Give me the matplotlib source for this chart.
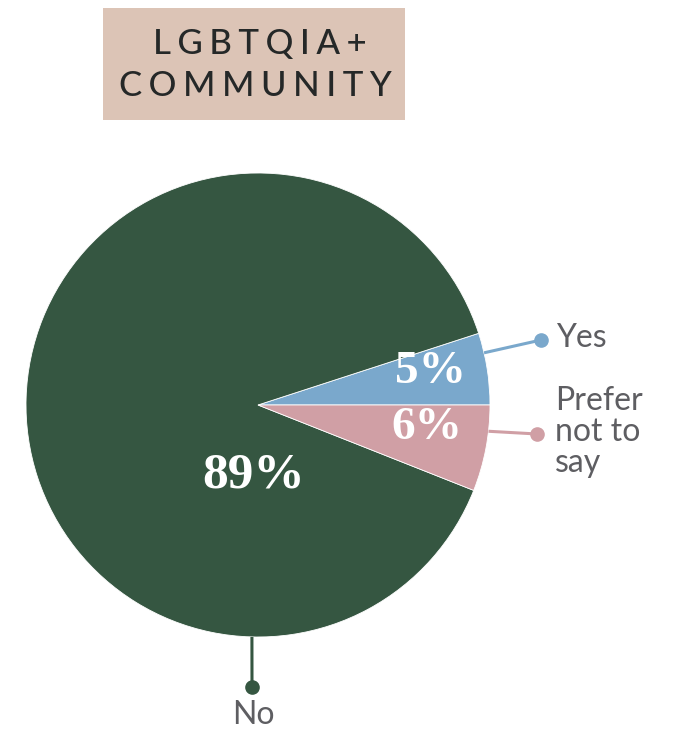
import numpy as np
import matplotlib.pyplot as plt
from matplotlib.patches import Rectangle

# survey answers, order as drawn counter-clockwise from 3 o'clock
labels = ["Yes", "No", "Prefer not to say"]
shares = [5, 89, 6]
colors = ["#7aa8cc", "#355641", "#d09fa5"]

W, H = 677, 734
fig = plt.figure(figsize=(W / 100, H / 100), dpi=100)
ax = fig.add_axes([0, 0, 1, 1])
ax.axis("off")

cx, cy, r = 258, H - 405, 232
wedges, _ = ax.pie(shares, colors=colors, startangle=0, counterclock=True,
                   center=(cx, cy), radius=r,
                   wedgeprops=dict(edgecolor="white", linewidth=0.6))
ax.set_xlim(0, W)
ax.set_ylim(0, H)
ax.set_aspect("equal")

# percentage labels inside slices
pct_font = dict(family="Liberation Serif", weight="bold", color="white")
ax.text(254, H - 475, f"{shares[1]}%", ha="center", va="center", fontsize=37, **pct_font)
ax.text(430, H - 372, f"{shares[0]}%", ha="center", va="center", fontsize=34, **pct_font)
ax.text(427, H - 428, f"{shares[2]}%", ha="center", va="center", fontsize=34, **pct_font)

# leader lines with dots
def leader(angle, end, color):
    a = np.deg2rad(angle)
    x0, y0 = cx + r * np.cos(a), cy + r * np.sin(a)
    ax.plot([x0, end[0]], [y0, end[1]], color=color, lw=2.2, solid_capstyle="butt")
    ax.plot(end[0], end[1], "o", color=color, ms=9.5)

leader(13, (541, H - 340), colors[0])
leader(-6.5, (537, H - 434), colors[2])
leader(-91.5, (252, H - 687), colors[1])

lab_font = dict(family="Lato", color="#5e5e62", fontsize=23)
ax.text(556, H - 338, "Yes", ha="left", va="center", **lab_font)
ax.text(555, H - 432, "Prefer\nnot to\nsay", ha="left", va="center",
        linespacing=1.06, **lab_font)
ax.text(253, H - 715, "No", ha="center", va="center", **lab_font)

# title box
ax.add_patch(Rectangle((103, H - 120), 302, 112, facecolor="#dcc4b6",
                       edgecolor="none"))
sp = "\u2009\u200a"
ax.text(260, H - 44, sp.join("LGBTQIA+"), ha="center", va="center",
        family="Lato", fontsize=25, color="#252828", weight="medium")
ax.text(255, H - 86, sp.join("COMMUNITY"), ha="center", va="center",
        family="Lato", fontsize=25, color="#252828", weight="medium")

fig.savefig("out.png", dpi=100)
